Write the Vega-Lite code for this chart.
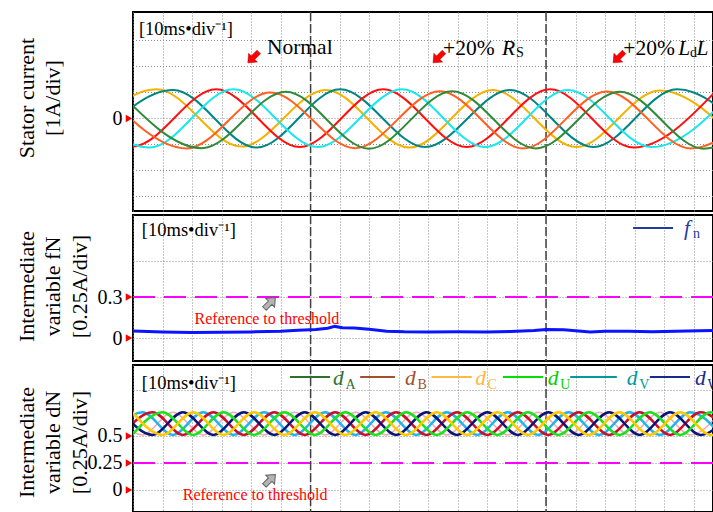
{
"$schema":"https://vega.github.io/schema/vega-lite/v6.json",
"padding":{"left":13,"top":10,"right":0,"bottom":0},
"background":"white",
"spacing":0,
"config":{
 "view":{"stroke":"#000","strokeWidth":2},
 "font":"Liberation Serif",
 "axisY":{"ticks":false,"domain":false,"grid":true,"gridColor":"#8c8c8c","gridDash":[1,2],"labelFont":"Liberation Serif","labelFontSize":20,"labelColor":"#000","labelPadding":11,"labelOverlap":false,"titleFont":"Liberation Serif","titleFontSize":22,"titleFontWeight":"normal","titleColor":"#000","titleLineHeight":26.5,"titleX":-117,"titleBaseline":"top","titleAngle":270,"titleAlign":"center"},
 "axisX":{"values":[10,20,30,40,50,60,70,80,90],"labels":false,"ticks":false,"domain":false,"title":null,"grid":true,"gridColor":"#8c8c8c","gridDash":[1,2],"gridWidth":1}
},
"resolve":{"scale":{"x":"independent","y":"independent","color":"independent"}},
"datasets":{
 "cur":[
  {"s":"go","t":-10.2,"v":-1.1},{"s":"go","t":4.0,"v":1.12},{"s":"go","t":18.35,"v":-1.08},{"s":"go","t":32.7,"v":1.1},{"s":"go","t":46.85,"v":-1.12},{"s":"go","t":61.0,"v":1.1},{"s":"go","t":75.15,"v":-1.1},{"s":"go","t":89.3,"v":1.08},{"s":"go","t":103.5,"v":-1.1},
  {"s":"te","t":-7.4,"v":-1.1},{"s":"te","t":6.8,"v":1.1},{"s":"te","t":20.95,"v":-1.12},{"s":"te","t":35.1,"v":1.12},{"s":"te","t":49.5,"v":-1.1},{"s":"te","t":63.9,"v":1.1},{"s":"te","t":78.05,"v":-1.1},{"s":"te","t":92.2,"v":1.12},{"s":"te","t":106.4,"v":-1.1},
  {"s":"re","t":-14.3,"v":1.1},{"s":"re","t":-0.1,"v":-1.08},{"s":"re","t":14.1,"v":1.12},{"s":"re","t":28.25,"v":-1.1},{"s":"re","t":42.4,"v":1.12},{"s":"re","t":56.55,"v":-1.1},{"s":"re","t":70.7,"v":1.12},{"s":"re","t":84.85,"v":-1.12},{"s":"re","t":99.0,"v":1.1},
  {"s":"cy","t":-11.4,"v":1.1},{"s":"cy","t":2.8,"v":-1.12},{"s":"cy","t":17.0,"v":1.12},{"s":"cy","t":31.3,"v":-1.1},{"s":"cy","t":45.6,"v":1.12},{"s":"cy","t":59.65,"v":-1.1},{"s":"cy","t":73.7,"v":1.1},{"s":"cy","t":87.9,"v":-1.1},{"s":"cy","t":102.1,"v":1.1},
  {"s":"or","t":-5.1,"v":1.05},{"s":"or","t":9.1,"v":-1.15},{"s":"or","t":23.3,"v":1.0},{"s":"or","t":37.65,"v":-1.14},{"s":"or","t":52.0,"v":1.05},{"s":"or","t":66.15,"v":-1.15},{"s":"or","t":80.3,"v":1.04},{"s":"or","t":94.5,"v":-1.15},{"s":"or","t":108.6,"v":1.05},
  {"s":"gr","t":-2.5,"v":1.05},{"s":"gr","t":11.7,"v":-1.14},{"s":"gr","t":25.9,"v":1.03},{"s":"gr","t":40.0,"v":-1.16},{"s":"gr","t":54.1,"v":1.05},{"s":"gr","t":68.3,"v":-1.15},{"s":"gr","t":82.5,"v":1.03},{"s":"gr","t":96.7,"v":-1.16},{"s":"gr","t":110.9,"v":1.05}
 ],
 "fn":[
  {"t":0,"v":0.051},{"t":5,"v":0.045},{"t":10,"v":0.04},{"t":15,"v":0.042},{"t":20,"v":0.045},{"t":25,"v":0.05},{"t":28,"v":0.056},{"t":31,"v":0.062},{"t":33,"v":0.072},{"t":34.2,"v":0.085},{"t":35.5,"v":0.075},{"t":37.5,"v":0.074},{"t":40,"v":0.065},{"t":43,"v":0.05},{"t":46,"v":0.046},{"t":50,"v":0.045},{"t":55,"v":0.046},{"t":60,"v":0.044},{"t":64,"v":0.048},{"t":68,"v":0.055},{"t":70,"v":0.062},{"t":73,"v":0.06},{"t":76,"v":0.05},{"t":77.5,"v":0.045},{"t":80,"v":0.05},{"t":84,"v":0.05},{"t":88,"v":0.046},{"t":92,"v":0.05},{"t":96,"v":0.054},{"t":98.3,"v":0.055}
 ],
 "dn":[
  {"t":-3.57,"V":0.51,"P":0.72},{"t":1.59,"V":0.72,"P":0.51},{"t":6.75,"V":0.51,"P":0.72},{"t":11.91,"V":0.72,"P":0.51},{"t":17.07,"V":0.51,"P":0.72},{"t":22.23,"V":0.72,"P":0.51},{"t":27.39,"V":0.51,"P":0.72},{"t":32.55,"V":0.72,"P":0.51},{"t":37.71,"V":0.51,"P":0.72},{"t":42.87,"V":0.72,"P":0.51},{"t":48.03,"V":0.51,"P":0.72},{"t":53.19,"V":0.72,"P":0.51},{"t":58.35,"V":0.51,"P":0.72},{"t":63.51,"V":0.72,"P":0.51},{"t":68.67,"V":0.51,"P":0.72},{"t":73.83,"V":0.72,"P":0.51},{"t":78.99,"V":0.51,"P":0.72},{"t":84.15,"V":0.72,"P":0.51},{"t":89.31,"V":0.51,"P":0.72},{"t":94.47,"V":0.72,"P":0.51},{"t":99.63,"V":0.51,"P":0.72},
  {"t":-1.85,"C":0.51,"W":0.72},{"t":3.31,"C":0.72,"W":0.51},{"t":8.47,"C":0.51,"W":0.72},{"t":13.63,"C":0.72,"W":0.51},{"t":18.79,"C":0.51,"W":0.72},{"t":23.95,"C":0.72,"W":0.51},{"t":29.11,"C":0.51,"W":0.72},{"t":34.27,"C":0.72,"W":0.51},{"t":39.43,"C":0.51,"W":0.72},{"t":44.59,"C":0.72,"W":0.51},{"t":49.75,"C":0.51,"W":0.72},{"t":54.91,"C":0.72,"W":0.51},{"t":60.07,"C":0.51,"W":0.72},{"t":65.23,"C":0.72,"W":0.51},{"t":70.39,"C":0.51,"W":0.72},{"t":75.55,"C":0.72,"W":0.51},{"t":80.71,"C":0.51,"W":0.72},{"t":85.87,"C":0.72,"W":0.51},{"t":91.03,"C":0.51,"W":0.72},{"t":96.19,"C":0.72,"W":0.51},{"t":101.35,"C":0.51,"W":0.72},
  {"t":-0.13,"U":0.51,"G":0.72},{"t":5.03,"U":0.72,"G":0.51},{"t":10.19,"U":0.51,"G":0.72},{"t":15.35,"U":0.72,"G":0.51},{"t":20.51,"U":0.51,"G":0.72},{"t":25.67,"U":0.72,"G":0.51},{"t":30.83,"U":0.51,"G":0.72},{"t":35.99,"U":0.72,"G":0.51},{"t":41.15,"U":0.51,"G":0.72},{"t":46.31,"U":0.72,"G":0.51},{"t":51.47,"U":0.51,"G":0.72},{"t":56.63,"U":0.72,"G":0.51},{"t":61.79,"U":0.51,"G":0.72},{"t":66.95,"U":0.72,"G":0.51},{"t":72.11,"U":0.51,"G":0.72},{"t":77.27,"U":0.72,"G":0.51},{"t":82.43,"U":0.51,"G":0.72},{"t":87.59,"U":0.72,"G":0.51},{"t":92.75,"U":0.51,"G":0.72},{"t":97.91,"U":0.72,"G":0.51},{"t":103.07,"U":0.51,"G":0.72}
 ]
},
"vconcat":[
 {
  "width":580,"height":199,
  "data":{"values":[{}]},
  "layer":[
   {"data":{"values":[{"g":-3},{"g":-2},{"g":-1},{"g":1},{"g":2},{"g":3}]},"mark":{"type":"rule","color":"#8c8c8c","strokeDash":[1,2],"strokeWidth":1},"encoding":{"y":{"field":"g","type":"quantitative","scale":{"domain":[-3.558,4.096],"nice":false,"zero":false},"axis":{"values":[0],"grid":true,"title":["Stator current","[1A/div]"],"titleY":85.5}}}},
   {"mark":{"type":"rule","color":"#404040","strokeDash":[9,3],"strokeWidth":1.5},"encoding":{"x":{"datum":30.1,"type":"quantitative","scale":{"domain":[0,98.3],"nice":false,"zero":false}}}},
   {"mark":{"type":"rule","color":"#404040","strokeDash":[9,3],"strokeWidth":1.5},"encoding":{"x":{"datum":70.0}}},
   {"data":{"name":"cur"},"mark":{"type":"line","interpolate":"monotone","strokeWidth":2,"clip":true},
    "encoding":{
     "x":{"field":"t","type":"quantitative","scale":{"domain":[0,98.3],"nice":false,"zero":false}},
     "y":{"field":"v","type":"quantitative"},
     "color":{"field":"s","type":"nominal","scale":{"domain":["go","te","or","gr","cy","re"],"range":["#f5b100","#008585","#ff6020","#2f8a3a","#19e6ee","#ff1010"]},"legend":null}
    }},
   {"mark":{"type":"point","shape":"triangle-right","filled":true,"color":"#ff0000","size":55,"opacity":1},"encoding":{"x":{"datum":-0.68},"y":{"datum":0}}},
   {"mark":{"type":"text","text":"[10ms•div⁻¹]","fontSize":18.5,"align":"left","baseline":"alphabetic","color":"#000"},"encoding":{"x":{"datum":1.0},"y":{"datum":3.21}}},
   {"mark":{"type":"text","text":"Normal","fontSize":21.5,"align":"left","baseline":"alphabetic","color":"#000"},"encoding":{"x":{"datum":22.7},"y":{"datum":2.48}}},
   {"mark":{"type":"text","text":"+20%","fontSize":21.5,"align":"left","baseline":"alphabetic","color":"#000","clip":true},"encoding":{"x":{"datum":52.54},"y":{"datum":2.44}}},
   {"mark":{"type":"text","text":"R","fontSize":21.5,"fontStyle":"italic","align":"left","baseline":"alphabetic","color":"#000","clip":true},"encoding":{"x":{"datum":62.54},"y":{"datum":2.44}}},
   {"mark":{"type":"text","text":"S","fontSize":14,"align":"left","baseline":"alphabetic","color":"#000","clip":true},"encoding":{"x":{"datum":64.92},"y":{"datum":2.365}}},
   {"mark":{"type":"text","text":"+20%","fontSize":21.5,"align":"left","baseline":"alphabetic","color":"#000","clip":true},"encoding":{"x":{"datum":83.1},"y":{"datum":2.44}}},
   {"mark":{"type":"text","text":"L","fontSize":21.5,"fontStyle":"italic","align":"left","baseline":"alphabetic","color":"#000","clip":true},"encoding":{"x":{"datum":92.4},"y":{"datum":2.44}}},
   {"mark":{"type":"text","text":"d","fontSize":14,"align":"left","baseline":"alphabetic","color":"#000","clip":true},"encoding":{"x":{"datum":94.4},"y":{"datum":2.365}}},
   {"mark":{"type":"text","text":"L","fontSize":21.5,"fontStyle":"italic","align":"left","baseline":"alphabetic","color":"#000","clip":true},"encoding":{"x":{"datum":95.5},"y":{"datum":2.44}}},
   {"mark":{"type":"point","shape":"M-0.32,-1L0.32,-1L0.32,0.05L0.8,0.05L0,1L-0.8,0.05L-0.32,0.05Z","angle":45,"filled":true,"fill":"#ff0000","stroke":"#b00000","strokeWidth":0.5,"size":240,"opacity":1},"encoding":{"x":{"datum":20.39},"y":{"datum":2.35}}},
   {"mark":{"type":"point","shape":"M-0.32,-1L0.32,-1L0.32,0.05L0.8,0.05L0,1L-0.8,0.05L-0.32,0.05Z","angle":45,"filled":true,"fill":"#ff0000","stroke":"#b00000","strokeWidth":0.5,"size":240,"opacity":1},"encoding":{"x":{"datum":51.78},"y":{"datum":2.35}}},
   {"mark":{"type":"point","shape":"M-0.32,-1L0.32,-1L0.32,0.05L0.8,0.05L0,1L-0.8,0.05L-0.32,0.05Z","angle":45,"filled":true,"fill":"#ff0000","stroke":"#b00000","strokeWidth":0.5,"size":240,"opacity":1},"encoding":{"x":{"datum":82.3},"y":{"datum":2.35}}}
  ]
 },
 {
  "width":580,"height":146,
  "data":{"values":[{}]},
  "layer":[
   {"mark":{"type":"rule","color":"#404040","strokeDash":[9,3],"strokeWidth":1.5},"encoding":{"x":{"datum":30.1,"type":"quantitative","scale":{"domain":[0,98.3],"nice":false,"zero":false}}}},
   {"mark":{"type":"rule","color":"#404040","strokeDash":[9,3],"strokeWidth":1.5},"encoding":{"x":{"datum":70.0}}},
   {"mark":{"type":"rule","color":"#ff00ff","strokeDash":[22,9],"strokeWidth":2},"encoding":{"y":{"datum":0.3,"type":"quantitative","scale":{"domain":[-0.168,0.8998],"nice":false,"zero":false}}}},
   {"data":{"name":"fn"},"mark":{"type":"line","strokeWidth":3,"color":"#0a14ff","clip":true},
    "encoding":{
     "x":{"field":"t","type":"quantitative","scale":{"domain":[0,98.3],"nice":false,"zero":false}},
     "y":{"field":"v","type":"quantitative","scale":{"domain":[-0.168,0.8998],"nice":false,"zero":false},
       "axis":{"values":[0,0.2,0.3,0.385,0.56,0.73],"labelExpr":"datum.value==0?'0':datum.value==0.3?'0.3':''","title":["Intermediate","variable fN","[0.25A/div]"],"titleY":71}}
    }},
   {"data":{"values":[{"v":0},{"v":0.3}]},"mark":{"type":"point","shape":"triangle-right","filled":true,"color":"#ff0000","size":55,"opacity":1},"encoding":{"x":{"datum":-0.68},"y":{"field":"v","type":"quantitative"}}},
   {"mark":{"type":"text","text":"[10ms•div⁻¹]","fontSize":18.5,"align":"left","baseline":"alphabetic","color":"#000"},"encoding":{"x":{"datum":1.5},"y":{"datum":0.746}}},
   {"mark":{"type":"rule","color":"#1f3ca0","strokeWidth":2},"encoding":{"x":{"datum":84.75},"x2":{"datum":91.53},"y":{"datum":0.805}}},
   {"mark":{"type":"text","text":"f","fontSize":21.5,"fontStyle":"italic","align":"left","baseline":"alphabetic","color":"#1f3ca0","clip":true},"encoding":{"x":{"datum":93.4},"y":{"datum":0.753}}},
   {"mark":{"type":"text","text":"n","fontSize":14,"align":"left","baseline":"alphabetic","color":"#1f3ca0","clip":true},"encoding":{"x":{"datum":94.9},"y":{"datum":0.7315}}},
   {"mark":{"type":"point","shape":"M-0.32,-1L0.32,-1L0.32,0.05L0.8,0.05L0,1L-0.8,0.05L-0.32,0.05Z","angle":225,"filled":true,"fill":"#b4b4b4","stroke":"#606060","strokeWidth":1,"size":240,"opacity":1},"encoding":{"x":{"datum":23.2},"y":{"datum":0.256}}},
   {"mark":{"type":"text","text":"Reference to threshold","fontSize":16,"align":"center","baseline":"middle","color":"#ff0000"},"encoding":{"x":{"datum":22.7},"y":{"datum":0.139}}}
  ]
 },
 {
  "width":580,"height":147,
  "data":{"values":[{}]},
  "layer":[
   {"mark":{"type":"rule","color":"#404040","strokeDash":[9,3],"strokeWidth":1.5},"encoding":{"x":{"datum":30.1,"type":"quantitative","scale":{"domain":[0,98.3],"nice":false,"zero":false}}}},
   {"mark":{"type":"rule","color":"#404040","strokeDash":[9,3],"strokeWidth":1.5},"encoding":{"x":{"datum":70.0}}},
   {"mark":{"type":"rule","color":"#ff00ff","strokeDash":[22,9],"strokeWidth":2},"encoding":{"y":{"datum":0.25,"type":"quantitative","scale":{"domain":[-0.204,1.157],"nice":false,"zero":false}}}},
   {"data":{"name":"dn"},"transform":[{"fold":["V","P","C","W","U","G"],"as":["s","v"]},{"filter":"isValid(datum.v) && datum.s=='P'"}],
    "mark":{"type":"line","interpolate":"monotone","strokeWidth":1.5,"color":"#e8909a","opacity":0.75,"clip":true},
    "encoding":{
     "x":{"field":"t","type":"quantitative","scale":{"domain":[0,98.3],"nice":false,"zero":false}},
     "y":{"field":"v","type":"quantitative","scale":{"domain":[-0.204,1.157],"nice":false,"zero":false},
       "axis":{"values":[0,0.25,0.5,0.926],"labelExpr":"datum.value==0?'0':datum.value==0.25?'0.25':datum.value==0.5?'0.5':''","title":["Intermediate","variable dN","[0.25A/div]"],"titleY":77}},
     "detail":{"field":"s"}
    }},
   {"data":{"name":"dn"},"transform":[{"fold":["V","P","C","W","U","G"],"as":["s","v"]},{"filter":"isValid(datum.v) && datum.s!='P'"}],
    "mark":{"type":"line","interpolate":"monotone","strokeWidth":2.5,"clip":true},
    "encoding":{
     "x":{"field":"t","type":"quantitative"},
     "y":{"field":"v","type":"quantitative"},
     "color":{"field":"s","type":"nominal","scale":{"domain":["C","G","V","U","W"],"range":["#c8102e","#ffc800","#1eb4ee","#1ee01e","#0a1478"]},"legend":null}
    }},
   {"data":{"values":[{"v":0},{"v":0.25},{"v":0.5}]},"mark":{"type":"point","shape":"triangle-right","filled":true,"color":"#ff0000","size":55,"opacity":1},"encoding":{"x":{"datum":-0.68},"y":{"field":"v","type":"quantitative"}}},
   {"mark":{"type":"text","text":"[10ms•div⁻¹]","fontSize":18.5,"align":"left","baseline":"alphabetic","color":"#000"},"encoding":{"x":{"datum":1.5},"y":{"datum":0.935}}},
   {"mark":{"type":"rule","color":"#2e7030","strokeWidth":2},"encoding":{"x":{"datum":26.6},"x2":{"datum":33.4},"y":{"datum":1.046}}},
   {"mark":{"type":"rule","color":"#a0522d","strokeWidth":2},"encoding":{"x":{"datum":38.5},"x2":{"datum":44.4},"y":{"datum":1.046}}},
   {"mark":{"type":"rule","color":"#ffb840","strokeWidth":2},"encoding":{"x":{"datum":50.6},"x2":{"datum":57.4},"y":{"datum":1.046}}},
   {"mark":{"type":"rule","color":"#00e000","strokeWidth":2},"encoding":{"x":{"datum":62.7},"x2":{"datum":69.5},"y":{"datum":1.046}}},
   {"mark":{"type":"rule","color":"#009a9a","strokeWidth":2},"encoding":{"x":{"datum":74.1},"x2":{"datum":82.0},"y":{"datum":1.046}}},
   {"mark":{"type":"rule","color":"#1a2a8a","strokeWidth":2},"encoding":{"x":{"datum":87.6},"x2":{"datum":94.4},"y":{"datum":1.046}}},
   {"mark":{"type":"text","text":"d","fontSize":21.5,"fontStyle":"italic","align":"left","baseline":"alphabetic","color":"#2e7030","clip":true},"encoding":{"x":{"datum":33.9},"y":{"datum":0.972}}},
   {"mark":{"type":"text","text":"A","fontSize":14,"align":"left","baseline":"alphabetic","color":"#2e7030","clip":true},"encoding":{"x":{"datum":36.0},"y":{"datum":0.935}}},
   {"mark":{"type":"text","text":"d","fontSize":21.5,"fontStyle":"italic","align":"left","baseline":"alphabetic","color":"#a0522d","clip":true},"encoding":{"x":{"datum":46.1},"y":{"datum":0.972}}},
   {"mark":{"type":"text","text":"B","fontSize":14,"align":"left","baseline":"alphabetic","color":"#a0522d","clip":true},"encoding":{"x":{"datum":48.2},"y":{"datum":0.935}}},
   {"mark":{"type":"text","text":"d","fontSize":21.5,"fontStyle":"italic","align":"left","baseline":"alphabetic","color":"#ffb840","clip":true},"encoding":{"x":{"datum":58.0},"y":{"datum":0.972}}},
   {"mark":{"type":"text","text":"C","fontSize":14,"align":"left","baseline":"alphabetic","color":"#ffb840","clip":true},"encoding":{"x":{"datum":60.1},"y":{"datum":0.935}}},
   {"mark":{"type":"text","text":"d","fontSize":21.5,"fontStyle":"italic","align":"left","baseline":"alphabetic","color":"#00d000","clip":true},"encoding":{"x":{"datum":70.3},"y":{"datum":0.972}}},
   {"mark":{"type":"text","text":"U","fontSize":14,"align":"left","baseline":"alphabetic","color":"#00d000","clip":true},"encoding":{"x":{"datum":72.4},"y":{"datum":0.935}}},
   {"mark":{"type":"text","text":"d","fontSize":21.5,"fontStyle":"italic","align":"left","baseline":"alphabetic","color":"#009a9a","clip":true},"encoding":{"x":{"datum":83.7},"y":{"datum":0.972}}},
   {"mark":{"type":"text","text":"V","fontSize":14,"align":"left","baseline":"alphabetic","color":"#009a9a","clip":true},"encoding":{"x":{"datum":85.8},"y":{"datum":0.935}}},
   {"mark":{"type":"text","text":"d","fontSize":21.5,"fontStyle":"italic","align":"left","baseline":"alphabetic","color":"#1a2a8a","clip":true},"encoding":{"x":{"datum":95.25},"y":{"datum":0.972}}},
   {"mark":{"type":"text","text":"W","fontSize":14,"align":"left","baseline":"alphabetic","color":"#1a2a8a","clip":true},"encoding":{"x":{"datum":97.35},"y":{"datum":0.935}}},
   {"mark":{"type":"point","shape":"M-0.32,-1L0.32,-1L0.32,0.05L0.8,0.05L0,1L-0.8,0.05L-0.32,0.05Z","angle":225,"filled":true,"fill":"#b4b4b4","stroke":"#606060","strokeWidth":1,"size":240,"opacity":1},"encoding":{"x":{"datum":23.2},"y":{"datum":0.093}}},
   {"mark":{"type":"text","text":"Reference to threshold","fontSize":16,"align":"center","baseline":"middle","color":"#ff0000"},"encoding":{"x":{"datum":20.7},"y":{"datum":-0.046}}}
  ]
 }
]
}
